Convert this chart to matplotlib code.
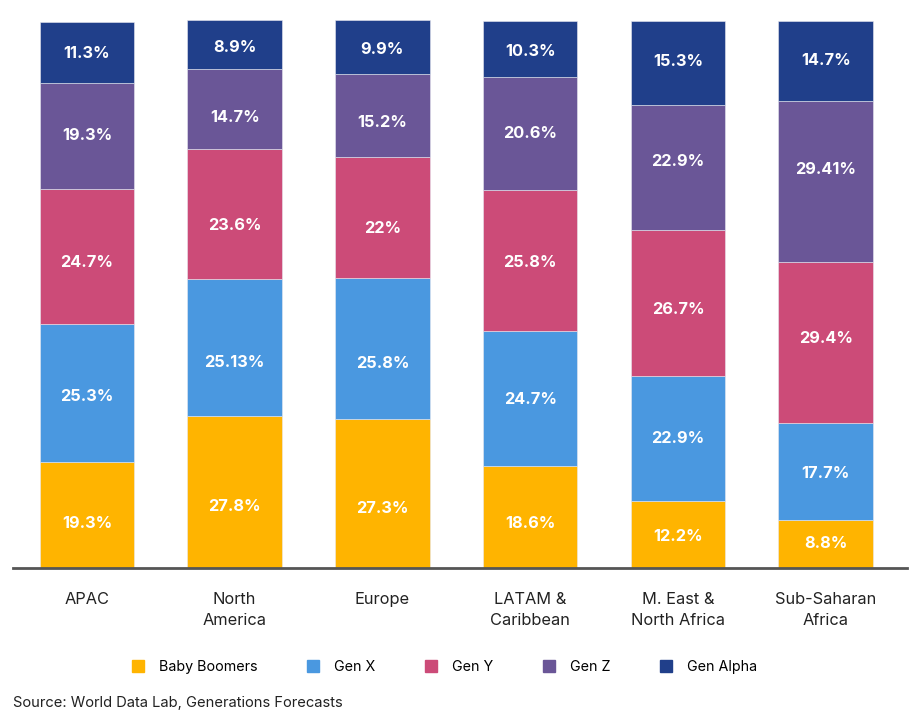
import matplotlib.pyplot as plt
from matplotlib.lines import Line2D
import numpy as np

plt.rcParams['font.family'] = ['Inter', 'DejaVu Sans']

regions = ['APAC', 'North\nAmerica', 'Europe', 'LATAM &\nCaribbean', 'M. East &\nNorth Africa', 'Sub-Saharan\nAfrica']
series = ['Baby Boomers', 'Gen X', 'Gen Y', 'Gen Z', 'Gen Alpha']
baby_boomers = [19.3, 27.8, 27.3, 18.6, 12.2, 8.8]
gen_x = [25.3, 25.13, 25.8, 24.7, 22.9, 17.7]
gen_y = [24.7, 23.6, 22, 25.8, 26.7, 29.4]
gen_z = [19.3, 14.7, 15.2, 20.6, 22.9, 29.41]
gen_alpha = [11.3, 8.9, 9.9, 10.3, 15.3, 14.7]
colors = ['#FFB400', '#4A98E0', '#CC4B78', '#6A5697', '#203F8A']

# labels in the original are hand placed, not exactly centred (pixels, + = down)
label_nudge = [[8, 15, 15, 6, 2, 0],
               [3, 15, 15, 1, 0, 2],
               [6, 12, 11, 2, 6, -4],
               [-1, 8, 7, 0, -6, -12],
               [1, 3, 2, 2, -1, -1]]

data = [baby_boomers, gen_x, gen_y, gen_z, gen_alpha]

fig = plt.figure(figsize=(9.23, 7.23), dpi=100)
ax = fig.add_axes([13/923, 155/723, 894/923, 548/723])

x = np.arange(len(regions))
bottom = np.zeros(len(regions))
for vals, col, nudge in zip(data, colors, label_nudge):
    vals = np.array(vals)
    ax.bar(x, vals, 0.64, bottom=bottom, color=col, edgecolor='#e8e8f0', linewidth=0.4)
    for xi, b, v, n in zip(x, bottom, vals, nudge):
        ax.annotate(f'{v:g}%', (xi, b + v / 2), xytext=(0, -n * 0.72),
                    textcoords='offset points', ha='center', va='center',
                    color='white', fontsize=11.8, fontweight='bold')
    bottom += vals

ax.set_xlim(-0.5, 5.55)
ax.set_ylim(0, 100.2)
for s in ['top', 'right', 'left']:
    ax.spines[s].set_visible(False)
ax.spines['bottom'].set_color('#555555')
ax.spines['bottom'].set_linewidth(2)
ax.set_yticks([])
ax.set_xticks(x)
ax.set_xticklabels(regions, fontsize=11.8, color='#222222', linespacing=1.5)
ax.tick_params(axis='x', length=0, pad=17.5)

handles = [Line2D([], [], marker='s', linestyle='', markersize=9, color=c) for c in colors]
fig.legend(handles, series, loc='center', bbox_to_anchor=(0.481, 0.077), ncol=5,
           frameon=False, fontsize=10.3, handletextpad=1.0, columnspacing=3.35,
           handlelength=1.0)

fig.text(13/923, 1 - 703/723, 'Source: World Data Lab, Generations Forecasts',
         fontsize=10.6, color='#222222', va='center', ha='left')

fig.savefig('out.png', dpi=100)
